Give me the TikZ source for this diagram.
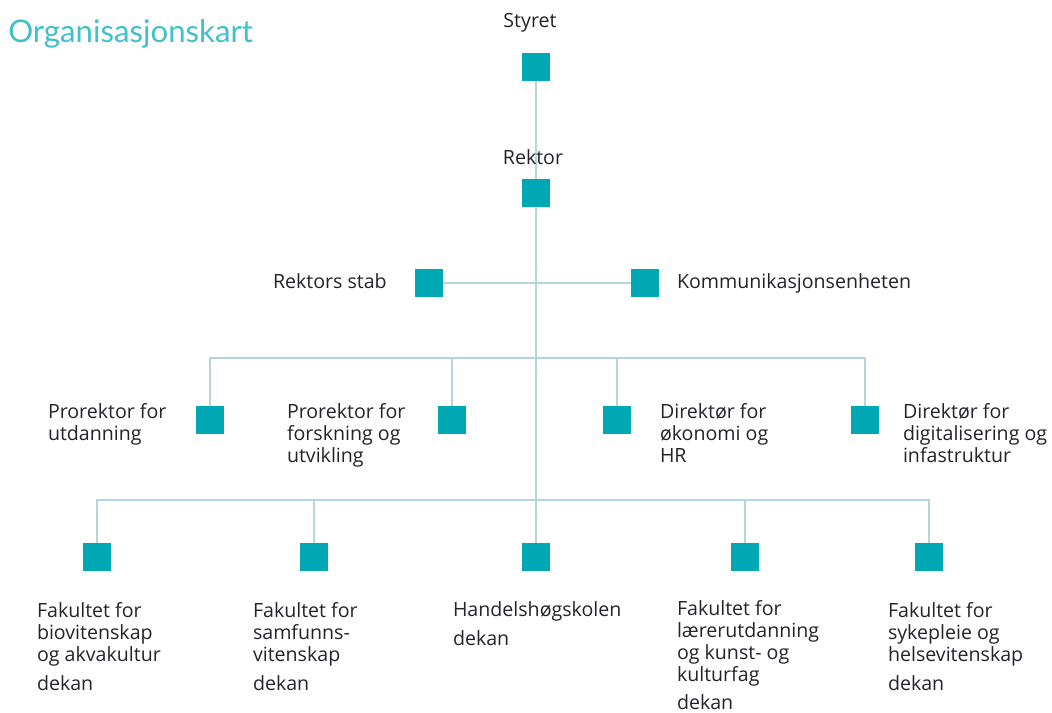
\documentclass[tikz,border=0pt]{standalone}
\usepackage{fontspec}
\setmainfont{Open Sans}
\newfontfamily\titlefont{Lato}
\definecolor{boxc}{HTML}{00A8B4}
\definecolor{linec}{HTML}{B3D6DC}
\definecolor{titlec}{HTML}{3FC0CC}
\definecolor{textc}{HTML}{23232B}
\begin{document}
\begin{tikzpicture}[x=0.75pt,y=-0.75pt,
  sq/.style={fill=boxc,draw=none,minimum size=21pt,inner sep=0pt,outer sep=0pt},
  conn/.style={draw=linec,line width=1.5pt},
  lbl/.style={text=textc,inner sep=0pt,outer sep=0pt,align=left,anchor=base west,
    font=\fontsize{14.7}{16.5}\selectfont}]
\path[use as bounding box] (0,0) rectangle (1052,713);
\node[anchor=base west,inner sep=0pt,text=titlec,font=\titlefont\fontsize{23.4}{26}\selectfont] (title) at (8,43) {Organisasjonskart};
% squares
\node[sq] (styret) at (536,67) {};
\node[sq] (rektor) at (536,193) {};
\node[sq] (rstab) at (429,282.5) {};
\node[sq] (komm) at (645,282.5) {};
\node[sq] (pu) at (210,419.5) {};
\node[sq] (pf) at (452,419.5) {};
\node[sq] (do) at (617,419.5) {};
\node[sq] (dd) at (865,419.5) {};
\node[sq] (f1) at (97,557) {};
\node[sq] (f2) at (314,557) {};
\node[sq] (hh) at (536,557) {};
\node[sq] (f4) at (745,557) {};
\node[sq] (f5) at (929,557) {};
\coordinate (b3) at (536,358);
\coordinate (b4) at (536,500);
% connectors
\draw[conn] (styret) -- (rektor);
\draw[conn] (rektor) -- (hh);
\draw[conn] (rstab) -- (komm);
\draw[conn] (pu.north) |- (b3) -| (dd.north);
\draw[conn] (pf.north) -- (pf.north |- b3);
\draw[conn] (do.north) -- (do.north |- b3);
\draw[conn] (f1.north) |- (b4) -| (f5.north);
\draw[conn] (f2.north) -- (f2.north |- b4);
\draw[conn] (f4.north) -- (f4.north |- b4);
% labels (anchored at the baseline of the last line)
\node[lbl,anchor=base] (tstyret) at (530,28) {Styret};
\node[lbl,anchor=base] (trektor) at (533,165) {Rektor};
\node[lbl] (trstab) at (273,288) {Rektors stab};
\node[lbl] (tkomm) at (677,288) {Kommunikasjonsenheten};
\node[lbl] (tpu) at (48,440) {Prorektor for\\utdanning};
\node[lbl] (tpf) at (287,462) {Prorektor for\\forskning og\\utvikling};
\node[lbl] (tdo) at (660,462) {Direktør for\\økonomi og\\HR};
\node[lbl] (tdd) at (903,462) {Direktør for\\digitalisering og\\infastruktur};
\node[lbl] (tf1) at (37,690) {Fakultet for\\biovitenskap\\og akvakultur\\[5pt]dekan};
\node[lbl] (tf2) at (253,690) {Fakultet for\\samfunns-\\vitenskap\\[5pt]dekan};
\node[lbl] (thh) at (453,645.5) {Handelshøgskolen\\[5pt]dekan};
\node[lbl] (tf4) at (677,709) {Fakultet for\\lærerutdanning\\og kunst- og\\kulturfag\\[4pt]dekan};
\node[lbl] (tf5) at (888,690) {Fakultet for\\sykepleie og\\helsevitenskap\\[5pt]dekan};
\end{tikzpicture}
\end{document}
